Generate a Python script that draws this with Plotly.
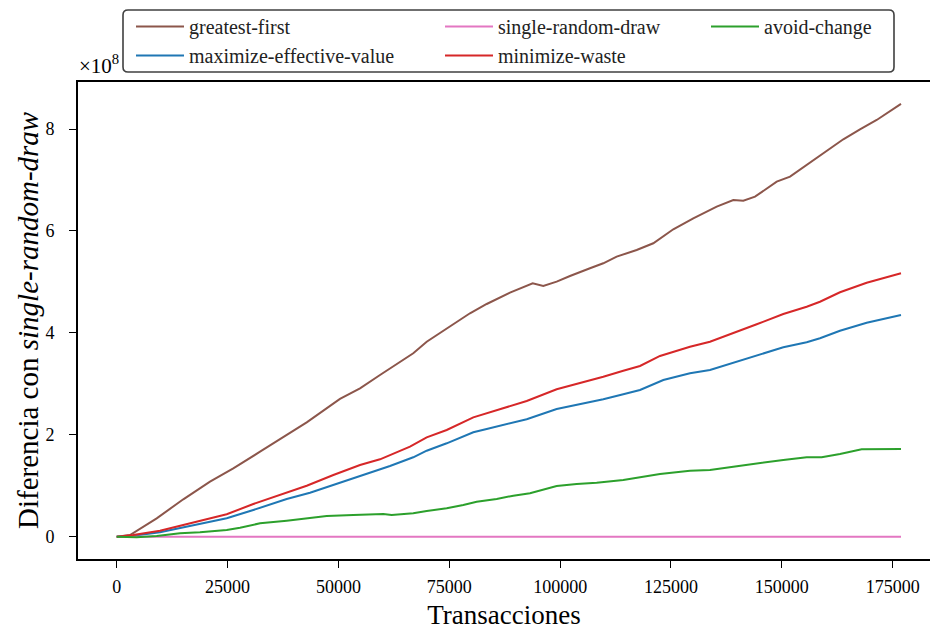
import plotly.graph_objects as go

# ---- data (values in units of 1e8) ----
gf_x = [0, 3000, 9020, 15020, 21040, 26290, 32330, 37570, 42850, 50350, 54870, 59380,
        61630, 66880, 69910, 74420, 79670, 83440, 88690, 93810, 96200, 99220, 102220,
        106730, 109730, 112750, 117260, 121010, 125520, 130030, 135310, 139050, 141310,
        143950, 148840, 151850, 155600, 159340, 163860, 167620, 171390, 176870]
gf_y = [0, 0.033, 0.361, 0.734, 1.080, 1.342, 1.668, 1.963, 2.245, 2.703, 2.913, 3.174,
        3.305, 3.600, 3.827, 4.090, 4.385, 4.567, 4.789, 4.973, 4.920, 5.005, 5.117,
        5.268, 5.366, 5.496, 5.627, 5.759, 6.033, 6.249, 6.477, 6.608, 6.595,
        6.673, 6.968, 7.066, 7.295, 7.525, 7.800, 7.996, 8.179, 8.494]

mw_x = [0, 3740, 9760, 14270, 20300, 24810, 30810, 38340, 42850, 48860, 54870, 59380,
        61630, 66140, 69910, 74420, 80420, 86440, 88690, 92460, 99220, 103730, 109730,
        114240, 118010, 122520, 129280, 133790, 139050, 144330, 150330, 155600, 158600,
        163110, 169130, 176870]
mw_y = [0, 0.033, 0.118, 0.216, 0.342, 0.440, 0.642, 0.864, 1.001, 1.211, 1.407, 1.519,
        1.604, 1.766, 1.951, 2.094, 2.343, 2.500, 2.565, 2.663, 2.893, 2.997, 3.140,
        3.258, 3.350, 3.547, 3.729, 3.827, 3.992, 4.169, 4.371, 4.514, 4.612,
        4.797, 4.985, 5.170]

mev_x = [0, 3740, 9760, 15020, 20300, 24810, 30810, 38340, 43590, 48860, 54870, 59380,
         61630, 66880, 69910, 74420, 80420, 83440, 87180, 92460, 99220, 103730, 109730,
         114240, 118010, 123270, 129280, 133790, 139050, 144330, 150330, 155600, 158600,
         163110, 169130, 176870]
mev_y = [0, 0.020, 0.086, 0.177, 0.275, 0.361, 0.524, 0.740, 0.864, 1.015, 1.191, 1.323,
         1.388, 1.558, 1.688, 1.833, 2.049, 2.114, 2.192, 2.304, 2.506, 2.585, 2.697,
         2.795, 2.879, 3.076, 3.207, 3.272, 3.415, 3.553, 3.717, 3.816, 3.894,
         4.043, 4.200, 4.351]

ac_x = [0, 4510, 9020, 14270, 18780, 24810, 27810, 32330, 38340, 47360, 53360, 59380,
        60120, 62010, 66880, 69910, 74420, 78160, 81180, 85690, 89440, 93200, 99220,
        103730, 108240, 114240, 118750, 122520, 129280, 133790, 139050, 144330, 150330,
        155600, 158980, 163110, 168000, 176870]
ac_y = [0, -0.012, 0.014, 0.067, 0.086, 0.131, 0.177, 0.263, 0.314, 0.406, 0.426, 0.446,
        0.446, 0.426, 0.459, 0.504, 0.557, 0.622, 0.687, 0.740, 0.805, 0.852, 0.995,
        1.034, 1.060, 1.113, 1.178, 1.231, 1.295, 1.309, 1.374, 1.441, 1.505,
        1.558, 1.558, 1.623, 1.715, 1.721]

srd_x = [0, 176870]
srd_y = [0, 0]

x_ticks = [0, 25000, 50000, 75000, 100000, 125000, 150000, 175000]
y_ticks = [0, 2, 4, 6, 8]

SCALE = 1e8

FONT = "Liberation Serif"

fig = go.Figure()

series = [
    ("greatest-first", gf_x, gf_y, "#8c564b", "legend"),
    ("maximize-effective-value", mev_x, mev_y, "#1f77b4", "legend"),
    ("single-random-draw", srd_x, srd_y, "#e377c2", "legend2"),
    ("minimize-waste", mw_x, mw_y, "#d62728", "legend2"),
    ("avoid-change", ac_x, ac_y, "#2ca02c", "legend3"),
]
for name, xs, ys, color, leg in series:
    fig.add_trace(go.Scatter(
        x=xs, y=[v * SCALE for v in ys], mode="lines", name=name,
        line=dict(color=color, width=2), legend=leg,
    ))

# plot area pixels
L, R, T, B = 78, 930, 82, 559
W, H = 930, 630

def px_x(p):
    return (p - L) / (R - L)

def px_y(p):
    return (B - p) / (B - T)

def legend_at(xpx):
    return dict(
        x=xpx / W, y=1 - 7 / H,
        bgcolor="rgba(0,0,0,0)", borderwidth=0,
        font=dict(family=FONT, size=20, color="#222222"),
        xref="container", yref="container", yanchor="top", xanchor="left",
        itemwidth=48, tracegroupgap=0,
    )

fig.update_layout(
    width=W, height=H,
    margin=dict(l=L, r=W - R, t=T, b=H - B, pad=0, autoexpand=False),
    plot_bgcolor="white", paper_bgcolor="white",
    font=dict(family=FONT, size=18, color="black"),
    showlegend=True,
    legend=legend_at(131),
    legend2=legend_at(440),
    legend3=legend_at(706),
    xaxis=dict(
        range=[-8727, 183410], tickmode="array", tickvals=x_ticks,
        ticktext=[str(v) for v in x_ticks], automargin=False,
        showgrid=False, zeroline=False, showline=True, linecolor="black", linewidth=1.6,
        mirror=True, ticks="outside", ticklen=7, tickwidth=1.4, tickcolor="black",
        tickfont=dict(family=FONT, size=18, color="black"),
        title=dict(text="Transacciones", font=dict(family=FONT, size=27, color="black"), standoff=11),
        ticklabelstandoff=4,
    ),
    yaxis=dict(
        range=[-0.4377 * SCALE, 8.924 * SCALE], tickmode="array",
        tickvals=[v * SCALE for v in y_ticks], ticktext=[str(v) for v in y_ticks],
        automargin=False,
        showgrid=False, zeroline=False, showline=True, linecolor="black", linewidth=1.6,
        mirror=False, ticks="outside", ticklen=7, tickwidth=1.4, tickcolor="black",
        tickfont=dict(family=FONT, size=18, color="black"),
        ticklabelstandoff=11,
    ),
)

# y-axis title
fig.add_annotation(
    text="Diferencia con <i>single-random-draw</i>", xref="paper", yref="paper",
    x=px_x(28), y=px_y(320), xanchor="center", yanchor="middle", textangle=-90,
    showarrow=False, font=dict(family=FONT, size=29, color="black"),
)

# multiplier label
fig.add_annotation(
    text="×10<sup>8</sup>", xref="paper", yref="paper", x=px_x(77), y=px_y(80),
    xanchor="left", yanchor="bottom", showarrow=False,
    font=dict(family=FONT, size=21, color="black"),
)

# legend frame (rounded rectangle)
x0, x1, y0, y1, r = 123, 894, 10, 72, 5
rx = r / (R - L)
ry = r / (B - T)
X0, X1, Y0, Y1 = px_x(x0), px_x(x1), px_y(y1), px_y(y0)
path = (f"M {X0+rx},{Y1} L {X1-rx},{Y1} Q {X1},{Y1} {X1},{Y1-ry} "
        f"L {X1},{Y0+ry} Q {X1},{Y0} {X1-rx},{Y0} L {X0+rx},{Y0} "
        f"Q {X0},{Y0} {X0},{Y0+ry} L {X0},{Y1-ry} Q {X0},{Y1} {X0+rx},{Y1} Z")
fig.add_shape(type="path", path=path, xref="paper", yref="paper",
              line=dict(color="#404040", width=1.6), fillcolor="rgba(0,0,0,0)",
              layer="above")

fig.write_html("out.html")
